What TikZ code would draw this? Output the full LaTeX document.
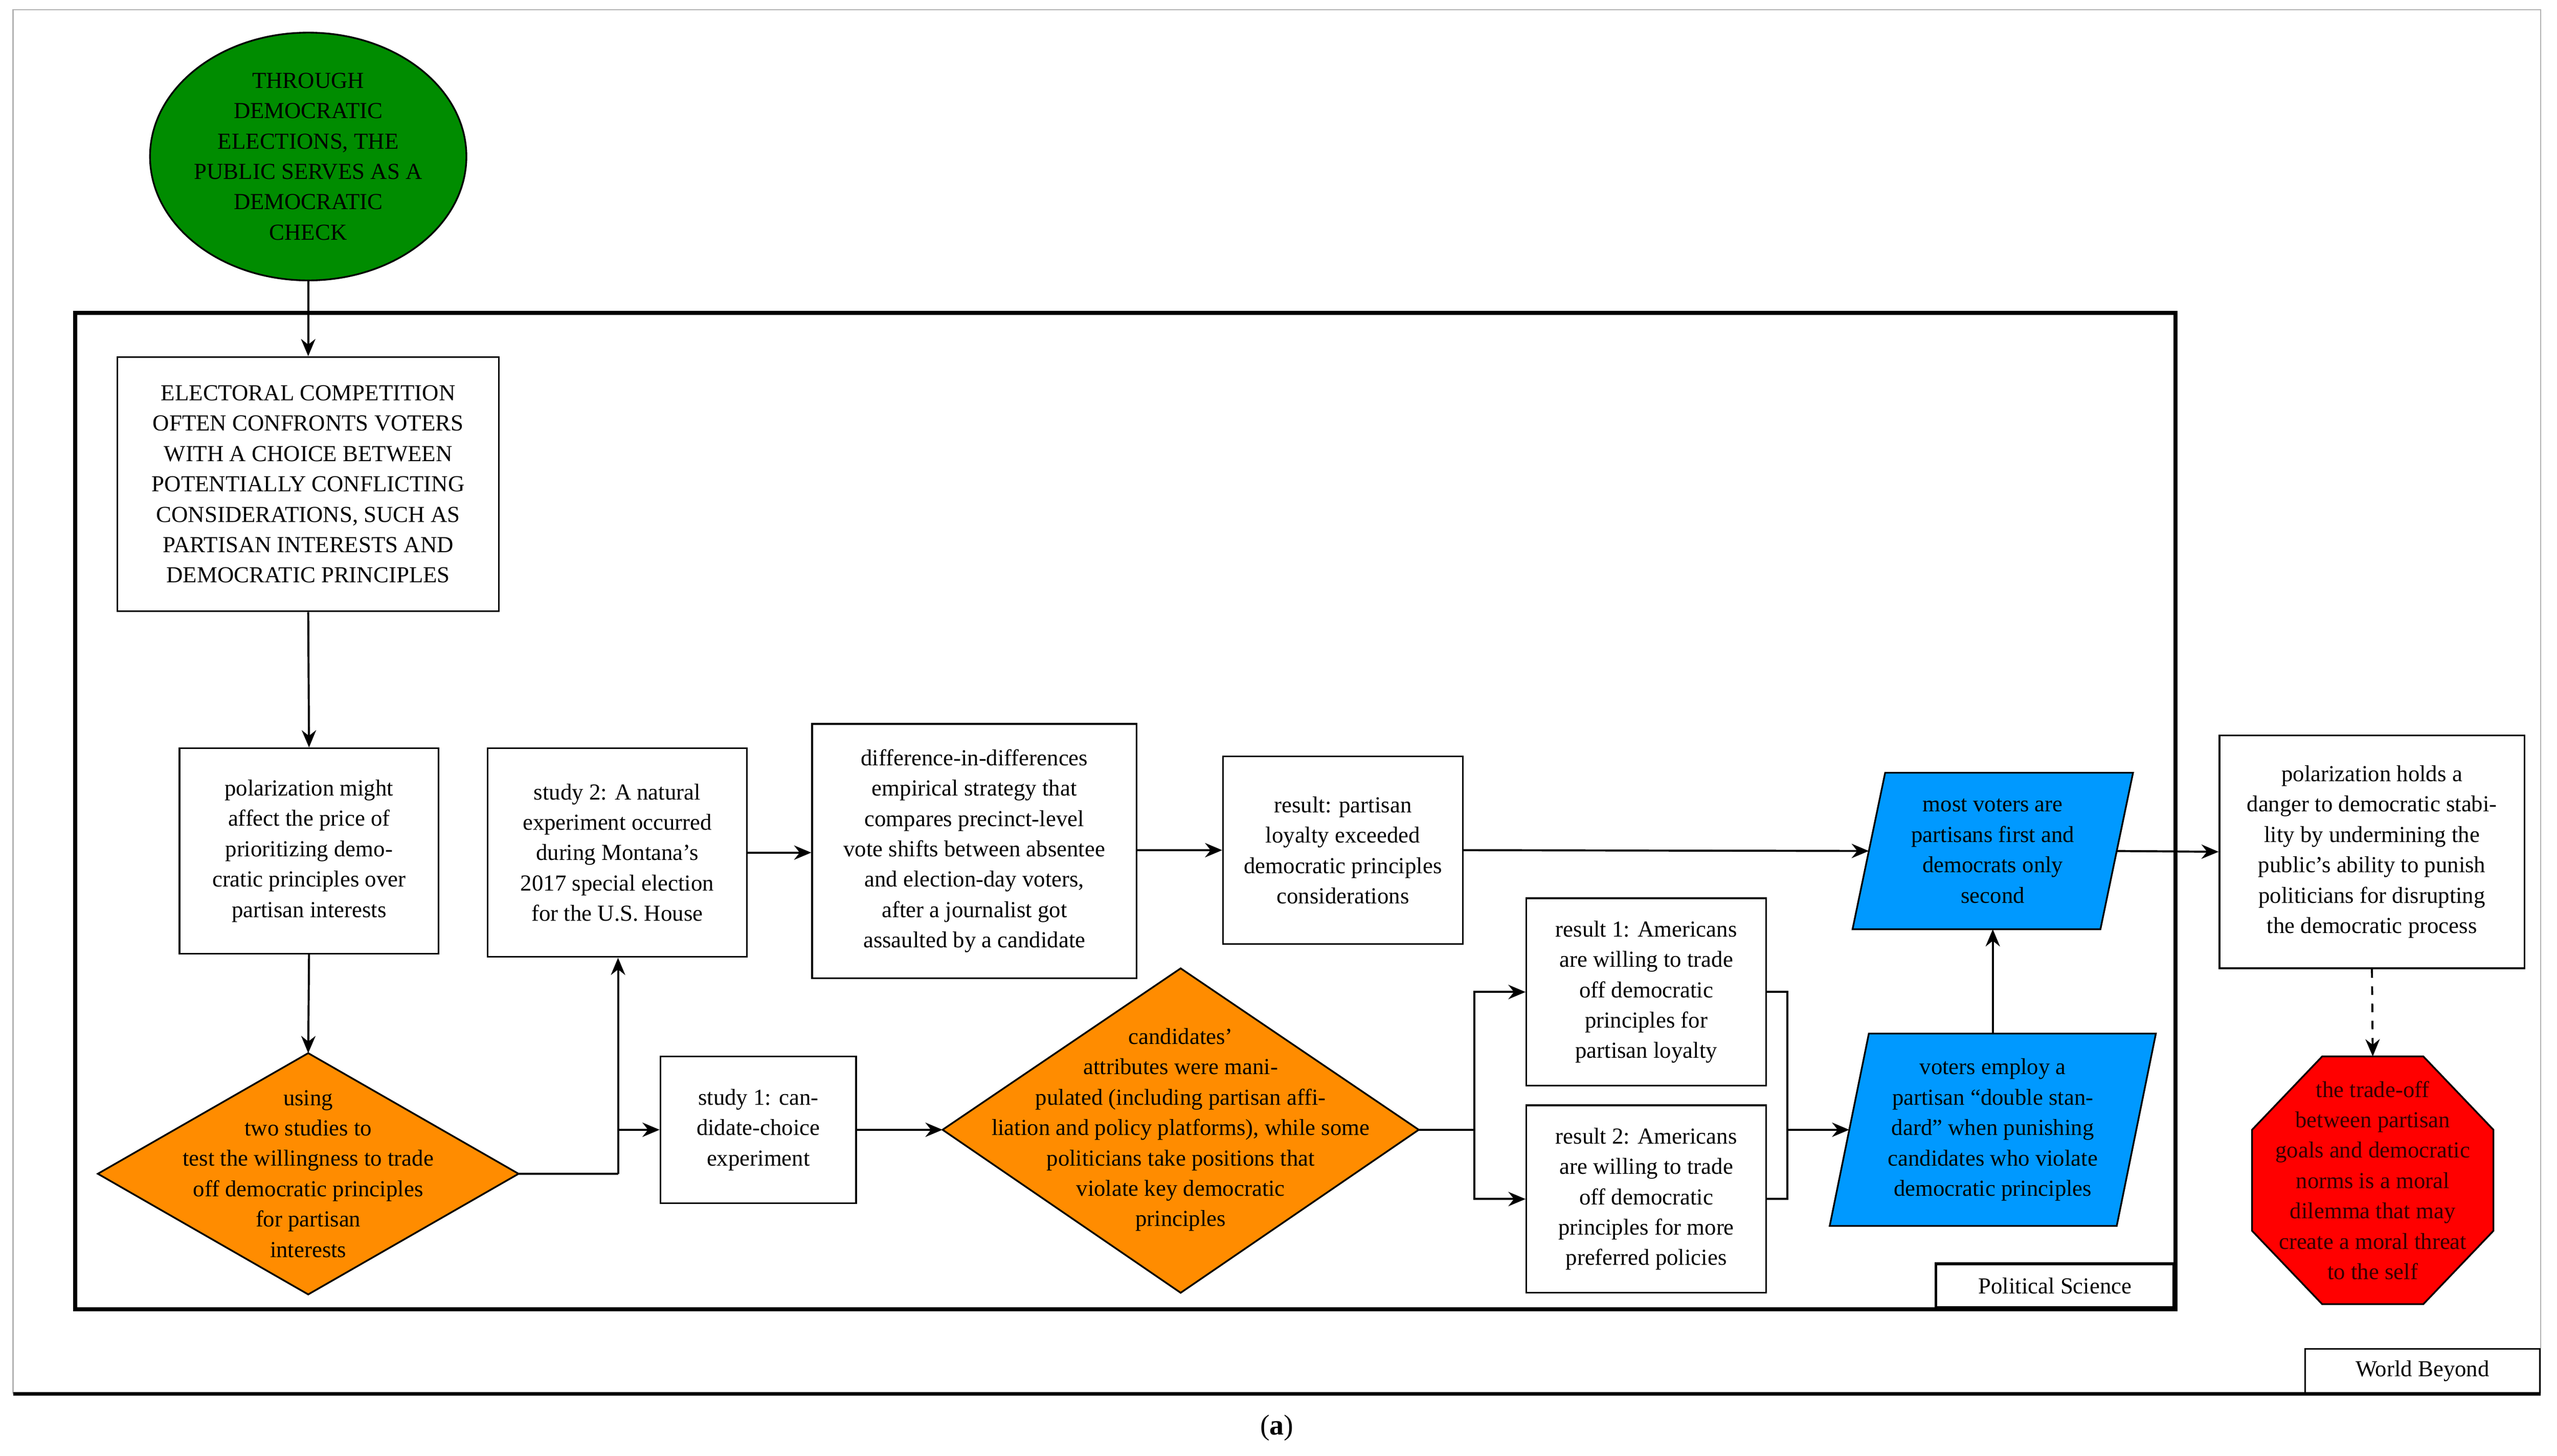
\documentclass[tikz,border=0pt]{standalone}
\usepackage{fontspec}
\setmainfont{Liberation Serif}
\usetikzlibrary{arrows.meta}
\definecolor{gr}{RGB}{0,140,0}
\definecolor{og}{RGB}{255,140,0}
\definecolor{bl}{RGB}{0,153,255}
\definecolor{rd}{RGB}{255,0,0}
\begin{document}
\begin{tikzpicture}[x=0.02cm,y=-0.02cm,
  every node/.style={font=\fontsize{8}{10.6}\selectfont, align=center},
  box/.style={draw, line width=0.6pt, inner sep=1pt},
  lbl/.style={inner sep=0pt},
  arr/.style={-{Stealth[length=6pt,width=5pt]}, line width=0.7pt},
  ln/.style={line width=0.7pt}]
\useasboundingbox (0,0) rectangle (1568,893);
% outer frame
\draw[gray!60, line width=0.4pt] (8,855) -- (8,6) -- (1558,6) -- (1558,855);
\draw[line width=1.2pt] (8,855) -- (1558,855);
\node[box, minimum width=2.88cm, minimum height=0.54cm, anchor=south east] (wb) at (1558,855) {World Beyond};
\node at (783,876) {\fontsize{10}{12}\selectfont (\textbf{a})};
% inner frame
\draw[line width=1.4pt] (46,192) rectangle (1334,803);
\node[box, line width=1pt, minimum width=2.92cm, minimum height=0.54cm, anchor=south east] (ps) at (1334,803) {Political Science};
% ellipse
\draw[fill=gr, line width=0.6pt] (189,96) ellipse [x radius=97, y radius=76];
\node[lbl] (e) at (189,96) {THROUGH\\DEMOCRATIC\\ELECTIONS, THE\\PUBLIC SERVES AS A\\DEMOCRATIC\\CHECK};
\coordinate (eb) at (189,172);
% boxes
\node[box, minimum width=4.68cm, minimum height=3.12cm] (b1) at (189,297) {ELECTORAL COMPETITION\\OFTEN CONFRONTS VOTERS\\WITH A CHOICE BETWEEN\\POTENTIALLY CONFLICTING\\CONSIDERATIONS, SUCH AS\\PARTISAN INTERESTS AND\\DEMOCRATIC PRINCIPLES};
\node[box, minimum width=3.18cm, minimum height=2.52cm] (b2) at (189.5,522) {polarization might\\affect the price of\\prioritizing demo-\\cratic principles over\\partisan interests};
\node[box, minimum width=3.18cm, minimum height=2.56cm] (s2) at (378.5,523) {study 2: A natural\\experiment occurred\\during Montana's\\2017 special election\\for the U.S. House};
\node[box, minimum width=3.98cm, minimum height=3.12cm] (did) at (597.5,522) {difference-in-differences\\empirical strategy that\\compares precinct-level\\vote shifts between absentee\\and election-day voters,\\after a journalist got\\assaulted by a candidate};
\node[box, minimum width=2.94cm, minimum height=2.3cm] (res) at (823.5,521.5) {result: partisan\\loyalty exceeded\\democratic principles\\considerations};
\node[box, minimum width=2.4cm, minimum height=1.8cm] (s1) at (465,693) {study 1: can-\\didate-choice\\experiment};
\node[box, minimum width=2.94cm, minimum height=2.3cm] (r1) at (1009.5,608.5) {result 1: Americans\\are willing to trade\\off democratic\\principles for\\partisan loyalty};
\node[box, minimum width=2.94cm, minimum height=2.3cm] (r2) at (1009.5,735.5) {result 2: Americans\\are willing to trade\\off democratic\\principles for more\\preferred policies};
\node[box, minimum width=3.74cm, minimum height=2.86cm] (rb) at (1454.5,522.5) {polarization holds a\\danger to democratic stabi-\\lity by undermining the\\public's ability to punish\\politicians for disrupting\\the democratic process};
% diamonds
\draw[fill=og, line width=0.6pt] (60,720) -- (189,646) -- (318,720) -- (189,794) -- cycle;
\node[lbl] (d1) at (189,720) {using\\two studies to\\test the willingness to trade\\off democratic principles\\for partisan\\interests};
\coordinate (d1t) at (189,646); \coordinate (d1r) at (318,720);
\draw[fill=og, line width=0.6pt] (578,693) -- (724,594) -- (870,693) -- (724,793) -- cycle;
\node[lbl] (d2) at (724,693) {candidates'\\attributes were mani-\\pulated (including partisan affi-\\liation and policy platforms), while some\\politicians take positions that\\violate key democratic\\principles};
\coordinate (d2l) at (578,693); \coordinate (d2r) at (870,693);
% parallelograms
\draw[fill=bl, line width=0.6pt] (1156,474) -- (1308,474) -- (1288,570) -- (1136,570) -- cycle;
\node[lbl] (p1) at (1222,522) {most voters are\\partisans first and\\democrats only\\second};
\coordinate (p1l) at (1146,522); \coordinate (p1r) at (1298,522); \coordinate (p1b) at (1222,570);
\draw[fill=bl, line width=0.6pt] (1146,634) -- (1322,634) -- (1298,752) -- (1122,752) -- cycle;
\node[lbl] (p2) at (1222,693) {voters employ a\\partisan ``double stan-\\dard'' when punishing\\candidates who violate\\democratic principles};
\coordinate (p2l) at (1134,693); \coordinate (p2t) at (1222,634);
% octagon
\draw[fill=rd, line width=0.6pt] (1424,648) -- (1486,648) -- (1529,693) -- (1529,755) -- (1486,800) -- (1424,800) -- (1381,755) -- (1381,693) -- cycle;
\node[lbl, text=black!80!red] (oc) at (1455,724) {the trade-off\\between partisan\\goals and democratic\\norms is a moral\\dilemma that may\\create a moral threat\\to the self};
\coordinate (oct) at (1455,648);
% connectors
\draw[arr] (eb) -- (b1.north);
\draw[arr] (b1.south) -- (b2.north);
\draw[arr] (b2.south) -- (d1t);
\coordinate (j1) at (379,720);
\draw[ln] (d1r) -- (j1);
\draw[arr] (j1) -- (s2.south -| j1);
\draw[arr] (j1 |- s1.west) -- (s1.west);
\draw[arr] (s2.east) -- (did.west |- s2.east);
\draw[arr] (did.east |- res.west) -- (res.west);
\draw[arr] (res.east) -- (p1l);
\draw[arr] (s1.east) -- (d2l);
\coordinate (j2) at (904,693);
\draw[ln] (d2r) -- (j2);
\draw[arr] (j2) |- (r1.west);
\draw[arr] (j2) |- (r2.west);
\coordinate (j3) at (1096,693);
\draw[ln] (r1.east) -| (j3);
\draw[ln] (r2.east) -| (j3);
\draw[arr] (j3) -- (p2l);
\draw[arr] (p2t) -- (p1b);
\draw[arr] (p1r) -- (rb.west);
\draw[arr, dashed] (rb.south) -- (oct);
\end{tikzpicture}
\end{document}
